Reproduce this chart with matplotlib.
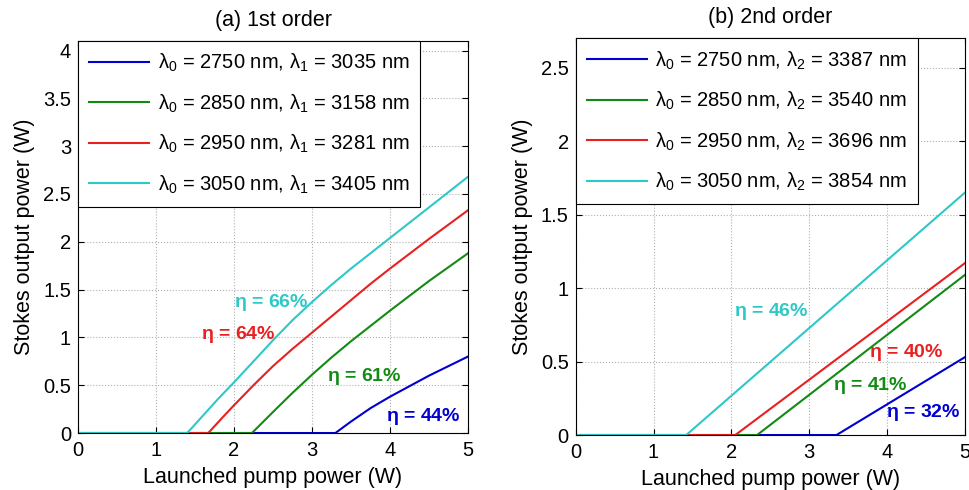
import matplotlib
matplotlib.use("Agg")
import matplotlib.pyplot as plt
from matplotlib.ticker import FormatStrFormatter, MultipleLocator

plt.rcParams["font.family"] = ["Liberation Sans", "DejaVu Sans"]
plt.rcParams["mathtext.fontset"] = "custom"
plt.rcParams["mathtext.rm"] = "Liberation Sans"
plt.rcParams["mathtext.it"] = "Liberation Sans:italic"

COLORS = ["#0000d0", "#138a13", "#e82020", "#2ec8c8"]

# (a) 1st order: launched pump power (W) -> Stokes output power (W)
a_blue_x = [0, 3.30, 3.5, 3.75, 4.0, 4.5, 5.0]
a_blue_y = [0, 0, 0.12, 0.26, 0.38, 0.60, 0.80]
a_green_x = [0, 2.23, 2.5, 2.75, 3.0, 3.25, 3.5, 3.75, 4.0, 4.5, 5.0]
a_green_y = [0, 0, 0.22, 0.42, 0.61, 0.79, 0.96, 1.12, 1.28, 1.59, 1.88]
a_red_x = [0, 1.67, 1.85, 2.0, 2.25, 2.5, 2.75, 3.0, 3.25, 3.5, 3.75, 4.0, 4.5, 5.0]
a_red_y = [0, 0, 0.16, 0.29, 0.50, 0.70, 0.88, 1.05, 1.22, 1.39, 1.56, 1.72, 2.03, 2.33]
a_cyan_x = [0, 1.40, 1.6, 1.8, 2.0, 2.25, 2.5, 2.75, 3.0, 3.25, 3.5, 4.0, 4.5, 5.0]
a_cyan_y = [0, 0, 0.18, 0.36, 0.53, 0.75, 0.97, 1.18, 1.37, 1.55, 1.72, 2.04, 2.36, 2.68]
a_labels = [
    r"$\mathregular{\lambda_0}$ = 2750 nm, $\mathregular{\lambda_1}$ = 3035 nm",
    r"$\mathregular{\lambda_0}$ = 2850 nm, $\mathregular{\lambda_1}$ = 3158 nm",
    r"$\mathregular{\lambda_0}$ = 2950 nm, $\mathregular{\lambda_1}$ = 3281 nm",
    r"$\mathregular{\lambda_0}$ = 3050 nm, $\mathregular{\lambda_1}$ = 3405 nm",
]
a_eta = ["44%", "61%", "64%", "66%"]
a_eta_pos = [(4.43, 0.17), (3.67, 0.59), (2.06, 1.03), (2.48, 1.37)]

# (b) 2nd order
b_blue_x = [0, 3.35, 5.0]
b_blue_y = [0, 0, 0.53]
b_green_x = [0, 2.33, 5.0]
b_green_y = [0, 0, 1.09]
b_red_x = [0, 2.05, 5.0]
b_red_y = [0, 0, 1.17]
b_cyan_x = [0, 1.42, 5.0]
b_cyan_y = [0, 0, 1.65]
b_labels = [
    r"$\mathregular{\lambda_0}$ = 2750 nm, $\mathregular{\lambda_2}$ = 3387 nm",
    r"$\mathregular{\lambda_0}$ = 2850 nm, $\mathregular{\lambda_2}$ = 3540 nm",
    r"$\mathregular{\lambda_0}$ = 2950 nm, $\mathregular{\lambda_2}$ = 3696 nm",
    r"$\mathregular{\lambda_0}$ = 3050 nm, $\mathregular{\lambda_2}$ = 3854 nm",
]
b_eta = ["32%", "41%", "40%", "46%"]
b_eta_pos = [(4.47, 0.15), (3.79, 0.34), (4.25, 0.56), (2.51, 0.84)]

FS_TICK = 14.5
FS_LEG = 14.5
FS_LAB = 15.5
FS_ETA = 14

fig = plt.figure(figsize=(9.7, 4.9), dpi=100)
ax_a = fig.add_axes([0.0804, 0.1163, 0.4021, 0.8000])
ax_b = fig.add_axes([0.5935, 0.1122, 0.4013, 0.8096])


def panel(ax, curves, labels, etas, eta_pos, ymax, title):
    for (x, y), lab, c in zip(curves, labels, COLORS):
        ax.plot(x, y, color=c, lw=1.5, label=lab)
    # eta in regular weight, the value in bold
    for txt, (tx, ty), c in zip(etas, eta_pos, COLORS):
        ax.text(tx, ty, r"$\mathregular{\eta}$ = " + txt,
                color=c, fontsize=FS_ETA, fontweight="bold",
                ha="center", va="center")
    ax.set_xlim(0, 5)
    ax.set_ylim(0, ymax)
    ax.xaxis.set_major_locator(MultipleLocator(1))
    ax.yaxis.set_major_locator(MultipleLocator(0.5))
    ax.yaxis.set_major_formatter(FormatStrFormatter("%g"))
    ax.grid(True, color="#b0b0b0", linestyle=":", linewidth=0.8)
    ax.tick_params(direction="in", top=True, right=True, labelsize=FS_TICK,
                   length=4)
    ax.tick_params(axis="x", pad=6)
    ax.tick_params(axis="y", pad=5)
    for sp in ax.spines.values():
        sp.set_linewidth(0.8)
    ax.set_xlabel("Launched pump power (W)", fontsize=FS_LAB, labelpad=5)
    ax.set_ylabel("Stokes output power (W)", fontsize=FS_LAB, labelpad=6)
    ax.set_title(title, fontsize=FS_LAB, pad=11)
    leg = ax.legend(loc="upper left", borderaxespad=0, fontsize=FS_LEG,
                    handlelength=3.0, handletextpad=0.4, labelspacing=0.9,
                    borderpad=0.55, fancybox=False, framealpha=1)
    leg.get_frame().set_edgecolor("black")
    leg.get_frame().set_linewidth(0.8)


panel(ax_a,
      [(a_blue_x, a_blue_y), (a_green_x, a_green_y),
       (a_red_x, a_red_y), (a_cyan_x, a_cyan_y)],
      a_labels, a_eta, a_eta_pos, 4.1, "(a) 1st order")
panel(ax_b,
      [(b_blue_x, b_blue_y), (b_green_x, b_green_y),
       (b_red_x, b_red_y), (b_cyan_x, b_cyan_y)],
      b_labels, b_eta, b_eta_pos, 2.7, "(b) 2nd order")

fig.savefig("out.png", dpi=100)
